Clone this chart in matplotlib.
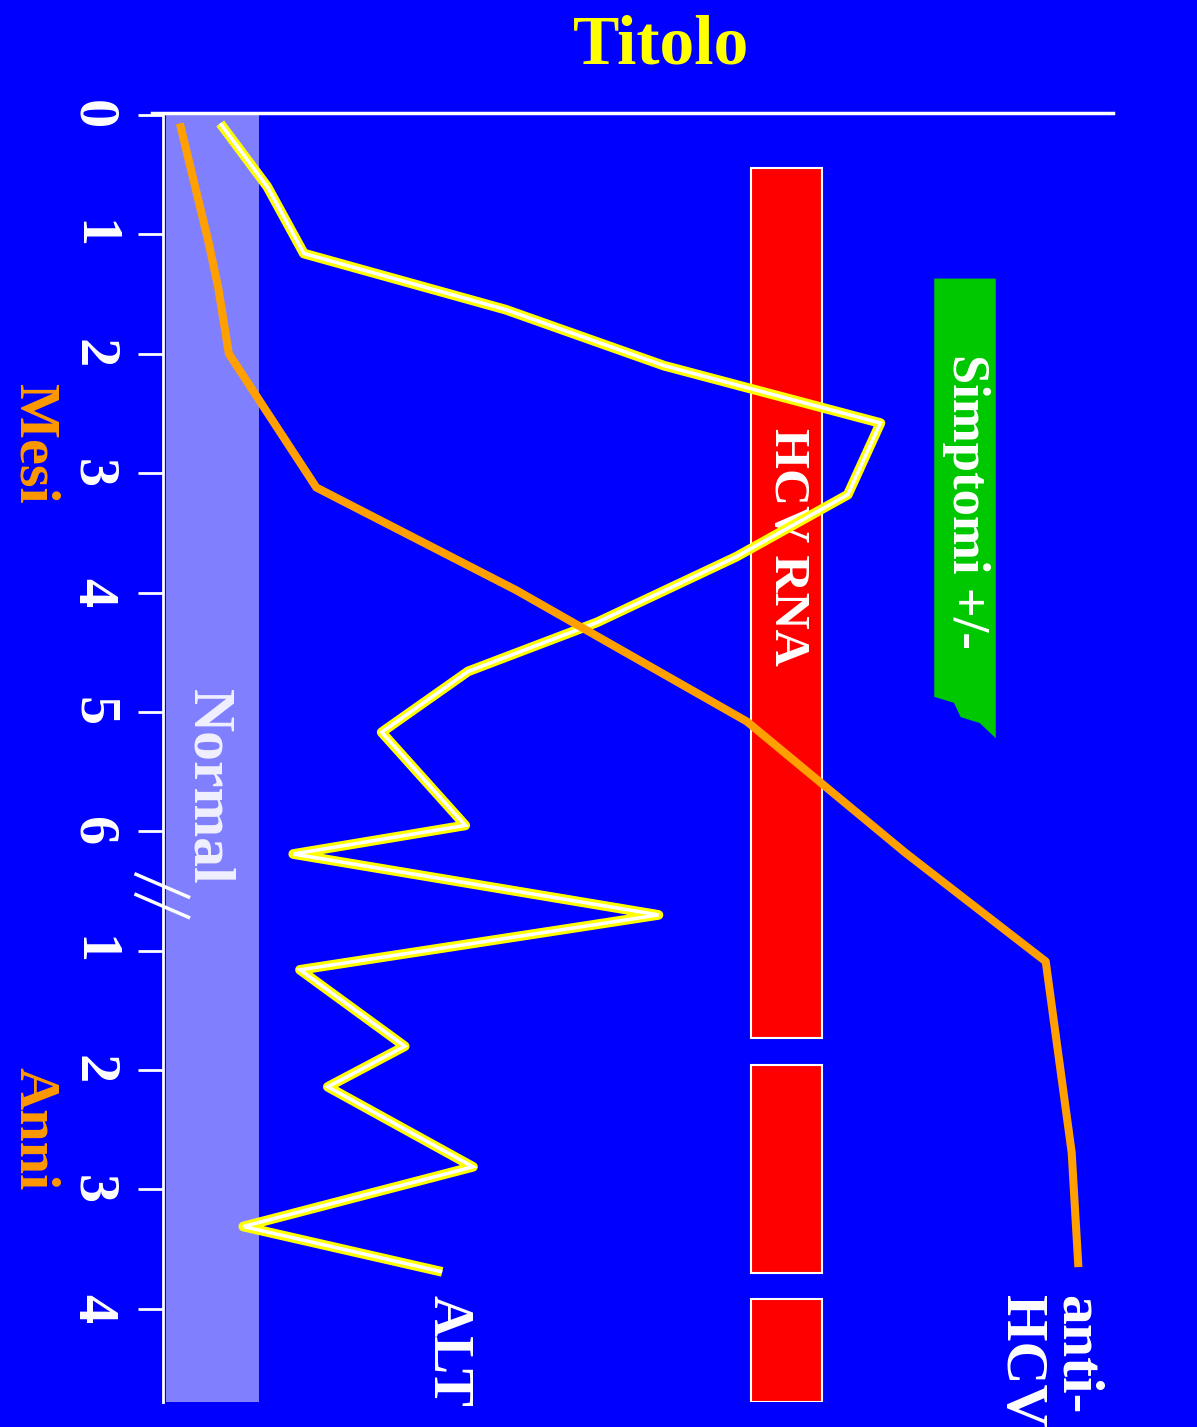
import matplotlib.pyplot as plt
from matplotlib.patches import Polygon

plt.rcParams['font.family'] = ['Liberation Serif', 'DejaVu Serif']
plt.rcParams['font.weight'] = 'bold'

BLU = '#0000ff'

# asse del tempo: 0-6 mesi, poi 1-4 anni (posizioni 7-10)
tick_pos = list(range(11))
tick_lab = ['0', '1', '2', '3', '4', '5', '6', '1', '2', '3', '4']

# ALT
alt_t = [0.07, 0.60, 1.16, 1.63, 2.10, 2.58, 3.18, 3.70, 4.25, 4.66,
         5.17, 5.95, 6.19, 6.70, 7.16, 7.80, 8.14, 8.81, 9.31, 9.69]
alt_v = [7.1, 12.0, 15.8, 36.8, 53.3, 75.8, 72.4, 60.8, 46.3, 32.9,
         23.9, 32.6, 14.7, 52.7, 15.4, 26.3, 18.3, 33.4, 9.5, 30.2]

# anti-HCV
anti_t = [0.07, 1.07, 1.45, 2.00, 3.12, 3.98, 5.08, 6.18, 7.09, 8.69, 9.65]
anti_v = [2.9, 5.9, 6.9, 8.0, 17.1, 37.9, 61.9, 78.4, 93.0, 95.7, 96.4]

# HCV RNA positivo
rna_start = [0.44, 7.96, 9.92]
rna_end = [7.73, 9.70, 10.78]
rna_x = 66.05

# sintomi
sint_inizio = 1.37
sint_fine = 5.22
sint_x = (81.4, 87.8)

# fascia normale ALT
normal_lo, normal_hi = 1.46, 11.13

fig = plt.figure(figsize=(11.97, 14.27), dpi=100, facecolor=BLU)
ax = fig.add_axes([152/1197, 1-1402/1427, 961/1197, (1402-113)/1427])
ax.set_facecolor(BLU)
ax.set_xlim(0, 100)
ax.set_ylim(10.78, -0.017)

for s in ['right', 'bottom']:
    ax.spines[s].set_visible(False)
ax.spines['left'].set_position(('axes', 11/961))
ax.spines['left'].set_color('white')
ax.spines['left'].set_linewidth(2)
ax.spines['top'].set_color('white')
ax.spines['top'].set_linewidth(2.5)

ax.set_xticks([])
ax.set_yticks(tick_pos)
ax.set_yticklabels(tick_lab, rotation=-90, va='center', fontsize=42,
                   color='white', fontweight='bold')
ax.tick_params(axis='y', direction='out', length=18, width=2,
               color='white', pad=14)

# fascia normale
ax.fill_betweenx([0, 10.78], normal_lo, normal_hi, color='#8080ff', lw=0, zorder=1)
ax.text((normal_lo + normal_hi)/2 - 0.5, 5.63, 'Normal', rotation=-90,
        ha='center', va='center', fontsize=43, color='#f0f0ff', zorder=1.5)

# barre HCV RNA
ax.bar(rna_x, [e - s for s, e in zip(rna_start, rna_end)], width=7.4,
       bottom=rna_start, color='red', edgecolor='white', lw=1.5, zorder=2)
ax.text(rna_x, 3.62, 'HCV RNA', rotation=-90, ha='center', va='center',
        fontsize=37, color='white', zorder=2.5)

# riquadro sintomi con bordo frastagliato
x0, x1 = sint_x
w = x1 - x0
d = sint_fine - sint_inizio
verts = [(x0, sint_inizio), (x1, sint_inizio), (x1, sint_fine),
         (x0 + 0.74*w, sint_fine - 0.033*d), (x0 + 0.43*w, sint_fine - 0.046*d),
         (x0 + 0.32*w, sint_fine - 0.077*d), (x0, sint_fine - 0.090*d)]
ax.add_patch(Polygon(verts, closed=True, color='#00c800', lw=0, zorder=2))
ax.text(84.7, 3.24, 'Simptomi +/-', rotation=-90, ha='center', va='center',
        fontsize=38, color='white', zorder=2.5)

# ALT
ax.plot(alt_v, alt_t, color='yellow', lw=7, solid_joinstyle='round',
        solid_capstyle='butt', zorder=3)
ax.plot(alt_v, alt_t, color='white', lw=2.5, solid_joinstyle='miter',
        solid_capstyle='butt', zorder=4)
ax.text(30.7, 9.88, 'ALT', rotation=-90, ha='center', va='top',
        fontsize=41, color='white')

# anti-HCV
ax.plot(anti_v, anti_t, color='#ffa000', lw=5.8, solid_capstyle='butt', zorder=5)
ax.text(93.2, 9.88, 'anti-\nHCV', rotation=-90, ha='center', va='top',
        multialignment='left', linespacing=1.05, fontsize=43, color='white')

# segno di interruzione dell'asse
brk = 6.45
for off in [0.0, 0.17]:
    ax.plot([-1.66, 3.8], [brk + off - 0.09, brk + off + 0.1], color='white',
            lw=2.5, clip_on=False, zorder=6)

fig.text(661/1197, 1 - 47/1427, 'Titolo', ha='center', va='center',
         fontsize=50, color='yellow')
fig.text(33/1197, 1 - 444/1427, 'Mesi', rotation=-90, ha='center', va='center',
         fontsize=42, color='#ff9900')
fig.text(33/1197, 1 - 1129/1427, 'Anni', rotation=-90, ha='center', va='center',
         fontsize=42, color='#ff9900')

fig.savefig('out.png', dpi=100, facecolor=BLU)
